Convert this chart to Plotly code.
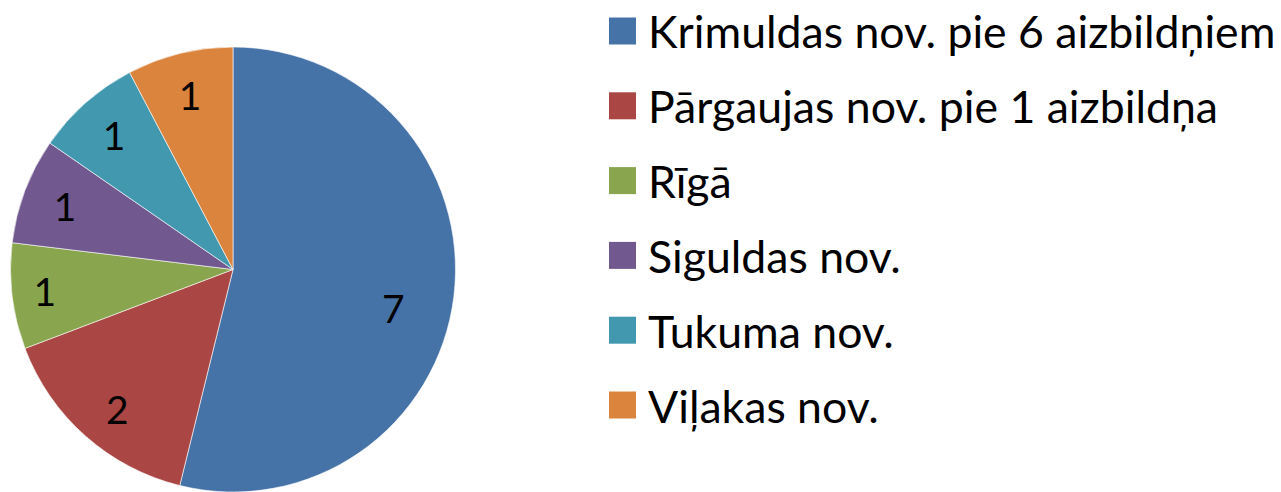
import plotly.graph_objects as go

labels = ["Krimuldas nov. pie 6 aizbildņiem", "Pārgaujas nov. pie 1 aizbildņa", "Rīgā",
          "Siguldas nov.", "Tukuma nov.", "Viļakas nov."]
values = [7, 2, 1, 1, 1, 1]
colors = ["#4572A7", "#AA4643", "#89A54E", "#71588F", "#4198AF", "#DB843D"]

W, H = 1281, 492
FONT = "Lato"
NB = "&nbsp;"

# value labels; padding nudges the label placement toward the original's spots
pads = [(NB + "<br>", NB * 10, ""), (NB + "<br>", "", NB * 3), ("", "", NB * 2), ("", "", ""), ("", "", ""), ("", "", "")]
texts = [pre + lead + str(v) + trail for v, (pre, lead, trail) in zip(values, pads)]

fig = go.Figure()
fig.add_trace(go.Pie(
    labels=labels, values=values, sort=False, direction="clockwise", rotation=0,
    text=texts, textinfo="text", textposition="inside", insidetextorientation="horizontal",
    marker=dict(colors=colors, line=dict(color="#ffffff", width=0.6)),
    textfont=dict(family=FONT, size=39, color="#000000"),
    domain=dict(x=[10 / W, 456 / W], y=[0, 445 / H]),
    showlegend=False, hoverinfo="label+value",
))

# manual legend (large rows spaced like the original)
row0, gap = 31, 74.8
sq = 27
for i, (lab, col) in enumerate(zip(labels, colors)):
    cy = row0 + i * gap
    fig.add_shape(type="rect", xref="paper", yref="paper",
                  x0=609 / W, x1=(609 + sq) / W,
                  y0=1 - (cy - sq / 2) / H, y1=1 - (cy + sq / 2) / H,
                  fillcolor=col, line=dict(width=0))
    fig.add_annotation(text=lab, xref="paper", yref="paper", x=646 / W, y=1 - cy / H,
                       xanchor="left", yanchor="middle", showarrow=False,
                       font=dict(family=FONT, size=44.6, color="#000000"))

fig.update_layout(width=W, height=H, margin=dict(l=0, r=0, t=0, b=0),
                  paper_bgcolor="#ffffff", plot_bgcolor="#ffffff")
fig.write_html("out.html")
